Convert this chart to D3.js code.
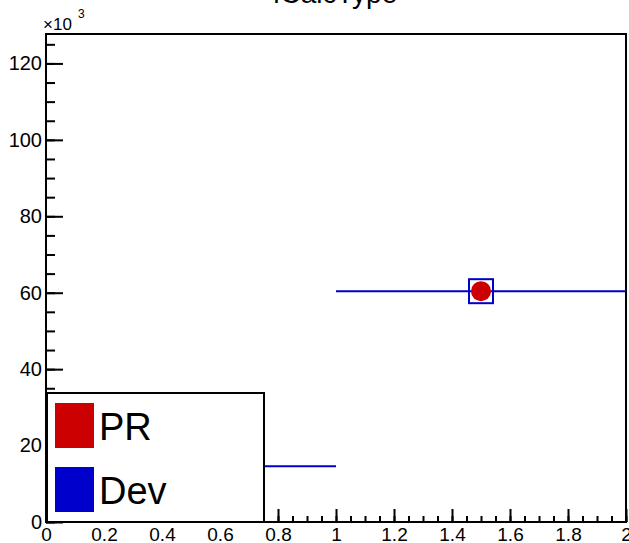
<!DOCTYPE html>
<html><head><meta charset="utf-8">
<script src="https://cdn.jsdelivr.net/npm/d3@7"></script>
<style>body{margin:0;background:#fff}svg{display:block;font-family:"Liberation Sans",Arial,sans-serif}</style>
</head><body><svg id="c" width="629" height="543"></svg>
<script>
const binEdges = [0, 1, 2];
const devValues = [14600, 60400];
const prValues = [14600, 60400];
const yTickValues = [0, 20000, 40000, 60000, 80000, 100000, 120000];
const yTickLabels = ["0", "20", "40", "60", "80", "100", "120"];
const xTickValues = [0, 0.2, 0.4, 0.6, 0.8, 1, 1.2, 1.4, 1.6, 1.8, 2];
const xTickLabels = ["0", "0.2", "0.4", "0.6", "0.8", "1", "1.2", "1.4", "1.6", "1.8", "2"];
const legendNames = ["PR", "Dev"];
const legendColors = ["#cc0000", "#0000cc"];
const title = "fCalcType";

const svg = d3.select("#c");
const L = 46, R = 626, T = 34, B = 522;
const x = d3.scaleLinear().domain([0, 2]).range([L, R]);
const y = d3.scaleLinear().domain([0, 127700]).range([B, T]);
const FF = "Liberation Sans, Arial, sans-serif";

// title (mostly cut off at top)
svg.append("text").attr("x", 335).attr("y", 3).attr("text-anchor", "middle")
  .attr("font-size", 28).attr("font-family", FF).text(title);

// exponent label
svg.append("text").attr("x", 43).attr("y", 30).attr("font-size", 17).attr("font-family", FF).text("\u00d710");
svg.append("text").attr("x", 78).attr("y", 18).attr("font-size", 12).attr("font-family", FF).text("3");

// minor y ticks
const yMinor = d3.range(0, 127700, 5000);
svg.append("g").attr("transform", `translate(${L},0)`)
  .call(d3.axisLeft(y).tickValues(yMinor).tickSizeInner(-9).tickSizeOuter(0).tickFormat(""))
  .call(g => { g.select(".domain").remove(); g.selectAll("line").attr("stroke-width", 2); });
// major y ticks
svg.append("g").attr("transform", `translate(${L},0)`)
  .call(d3.axisLeft(y).tickValues(yTickValues).tickSizeInner(-17).tickSizeOuter(0).tickPadding(4)
    .tickFormat((d, i) => yTickLabels[i]))
  .call(g => { g.select(".domain").remove(); g.selectAll("line").attr("stroke-width", 2);
    g.selectAll("text").attr("font-size", 20).attr("font-family", FF).attr("fill", "#000"); });

// minor x ticks
const xMinor = d3.range(0, 2.0001, 0.05);
svg.append("g").attr("transform", `translate(0,${B})`)
  .call(d3.axisBottom(x).tickValues(xMinor).tickSizeInner(-6).tickSizeOuter(0).tickFormat(""))
  .call(g => { g.select(".domain").remove(); g.selectAll("line").attr("stroke-width", 2); });
svg.append("g").attr("transform", `translate(0,${B})`)
  .call(d3.axisBottom(x).tickValues(xTickValues).tickSizeInner(-13).tickSizeOuter(0).tickPadding(6)
    .tickFormat((d, i) => xTickLabels[i]))
  .call(g => { g.select(".domain").remove(); g.selectAll("line").attr("stroke-width", 2);
    g.selectAll("text").attr("font-size", 19).attr("font-family", FF).attr("fill", "#000"); });

// frame
svg.append("rect").attr("x", L).attr("y", T).attr("width", R - L).attr("height", B - T)
  .attr("fill", "none").attr("stroke", "#000").attr("stroke-width", 2);

// Dev histogram: horizontal bin-width lines and square markers
const bins = devValues.map((v, i) => ({ x0: binEdges[i], x1: binEdges[i + 1], v, pr: prValues[i] }));
svg.append("g").selectAll("line").data(bins).join("line")
  .attr("x1", d => x(d.x0)).attr("x2", d => x(d.x1))
  .attr("y1", d => y(d.v)).attr("y2", d => y(d.v))
  .attr("stroke", legendColors[1]).attr("stroke-width", 2);
svg.append("g").selectAll("rect").data(bins).join("rect")
  .attr("x", d => x((d.x0 + d.x1) / 2) - 12).attr("y", d => y(d.v) - 12)
  .attr("width", 24).attr("height", 24)
  .attr("fill", "none").attr("stroke", legendColors[1]).attr("stroke-width", 2);
// PR markers
svg.append("g").selectAll("circle").data(bins).join("circle")
  .attr("cx", d => x((d.x0 + d.x1) / 2)).attr("cy", d => y(d.pr)).attr("r", 10)
  .attr("fill", legendColors[0]);

// legend
const lg = svg.append("g");
lg.append("rect").attr("x", 47).attr("y", 393).attr("width", 217).attr("height", 129)
  .attr("fill", "#fff").attr("stroke", "#000").attr("stroke-width", 2);
legendNames.forEach((n, i) => {
  const yy = 403 + i * 64;
  lg.append("rect").attr("x", 55).attr("y", yy).attr("width", 39).attr("height", 45).attr("fill", legendColors[i]);
  lg.append("text").attr("x", 99).attr("y", yy + 37).attr("font-size", 38).attr("font-family", FF).text(n);
});
</script></body></html>
